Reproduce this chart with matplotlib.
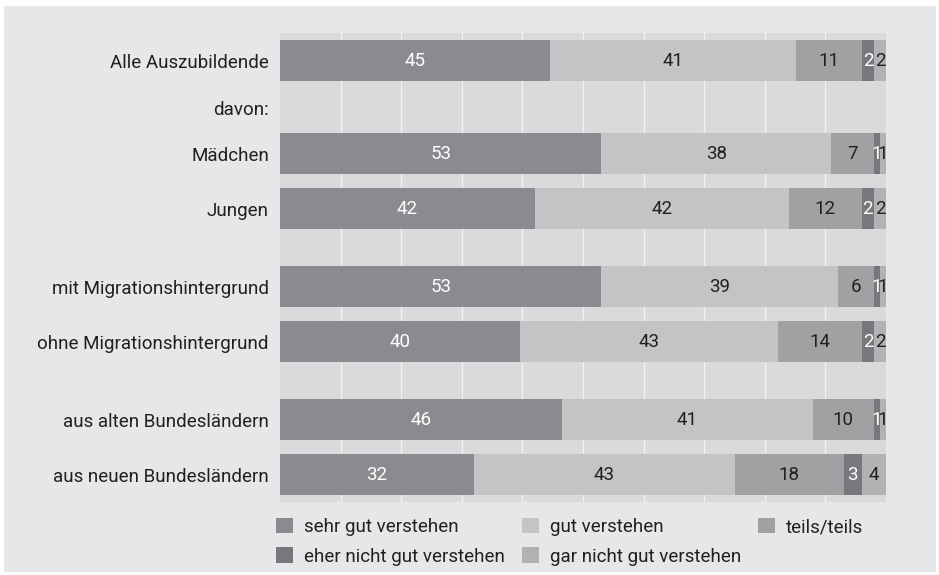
import numpy as np
import matplotlib.pyplot as plt
from matplotlib.patches import Rectangle, Patch

# Row labels and answer categories
groups = ["Alle Auszubildende", "Mädchen", "Jungen",
          "mit Migrationshintergrund", "ohne Migrationshintergrund",
          "aus alten Bundesländern", "aus neuen Bundesländern"]
categories = ["sehr gut verstehen", "gut verstehen", "teils/teils",
              "eher nicht gut verstehen", "gar nicht gut verstehen"]

# Shares in percent, one list per category (order follows groups)
sehr_gut = [45, 53, 42, 53, 40, 46, 32]
gut = [41, 38, 42, 39, 43, 41, 43]
teils = [11, 7, 12, 6, 14, 10, 18]
eher_nicht = [2, 1, 2, 1, 2, 1, 3]
gar_nicht = [2, 1, 2, 1, 2, 1, 4]

# Layout: row centres in pixel units from the top
row_pos = [60.5, 153.5, 208.5, 286.5, 341.5, 419.5, 474.5]
davon_pos = 108
bar_h = 41

colors = ["#8a8b8e", "#c3c4c6", "#a0a1a3", "#77787b", "#b1b2b4"]
text_colors = ["white", "#231f20", "#231f20", "white", "#231f20"]

plt.rcParams["font.family"] = ["Roboto", "DejaVu Sans"]
fs = 13.5

W, H = 939, 575
fig = plt.figure(figsize=(W / 100, H / 100), dpi=100)
fig.patch.set_facecolor("white")
fig.patches.append(Rectangle((4 / W, 1 - 572 / H), 932 / W, 566 / H,
                             transform=fig.transFigure, facecolor="#e6e7e8",
                             edgecolor="none", zorder=-10))

ax = fig.add_axes([280 / W, 1 - 502 / H, 606 / W, 469 / H])
ax.set_facecolor("#d9dadc")

data = np.array([sehr_gut, gut, teils, eher_nicht, gar_nicht], dtype=float)
totals = data.sum(axis=0)
shares = data / totals * 100

left = np.zeros(len(groups))
for i, cat in enumerate(categories):
    ax.barh(row_pos, shares[i], left=left, height=bar_h, color=colors[i],
            edgecolor="none", label=cat, zorder=2)
    for y, l, w, v in zip(row_pos, left, shares[i], data[i]):
        ax.text(l + w / 2, y, f"{int(v)}", ha="center", va="center",
                color=text_colors[i], fontsize=fs, zorder=3)
    left += shares[i]

ax.set_xlim(0, 100)
ax.set_ylim(502, 33)
ax.set_xticks(np.arange(10, 100, 10))
ax.xaxis.grid(True, color="#f2f2f3", linewidth=1.0, zorder=1)
ax.tick_params(axis="x", length=0, labelbottom=False)
ax.set_yticks(row_pos + [davon_pos])
ax.set_yticklabels(groups + ["davon:"], fontsize=fs, color="#231f20")
ax.tick_params(axis="y", length=0, pad=8)
for s in ax.spines.values():
    s.set_visible(False)

# Legend, filled column by column so rows read left to right
order = [0, 3, 1, 4, 2]
handles = [Patch(facecolor=colors[i], edgecolor="none") for i in order]
labels = [categories[i] for i in order]
fig.legend(handles, labels, ncol=3, loc="upper left",
           bbox_to_anchor=(259 / W, 1 - 501 / H), frameon=False,
           fontsize=fs, handlelength=0.9, handleheight=0.9,
           handletextpad=0.6, columnspacing=0.9, labelspacing=0.6,
           labelcolor="#231f20")

fig.savefig("out.png", dpi=100, facecolor="white")
